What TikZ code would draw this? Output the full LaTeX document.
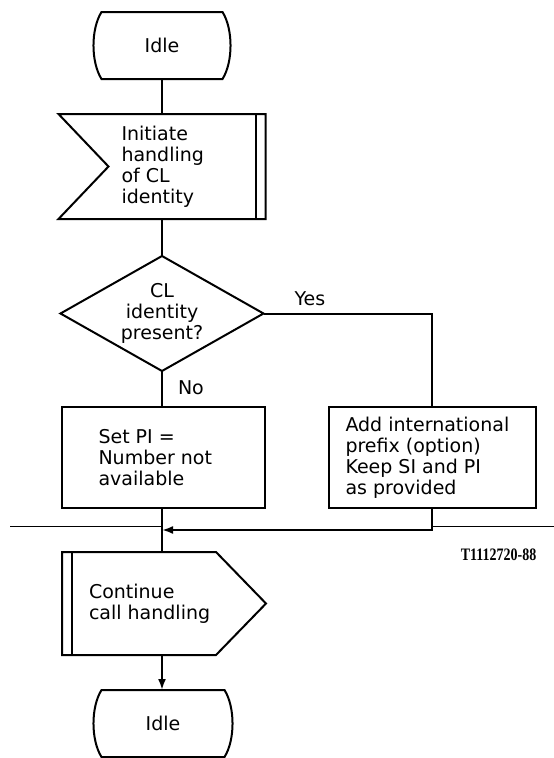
\documentclass[tikz,border=0pt]{standalone}
\usepackage{fontspec}
\setmainfont{DejaVu Sans}
\newfontfamily\codefont{Liberation Serif}
\usepackage{tikz}
\usetikzlibrary{arrows.meta}
\usetikzlibrary{positioning}

\tikzset{
  frame/.style={rectangle, draw=none, inner sep=0pt},
  txt/.style={inner sep=0pt, align=left, font=\fontsize{19}{21}\selectfont},
}

\begin{document}
\begin{tikzpicture}[x=1pt, y=-1pt]
\useasboundingbox (0,0) rectangle (554,758);
\coordinate (ruleL) at (10,526);
\coordinate (ruleR) at (554,526);
\coordinate (join) at (162,530);
\begin{scope}[line width=2pt]
% draws frames
\node[frame, minimum width=135pt, minimum height=65pt] (idleA) at (162,45.5) {};
\node[frame, minimum width=205pt, minimum height=103pt] (init) at (162,166.5) {};
\node[frame, minimum width=201pt, minimum height=113pt] (dec) at (162,313.5) {};
\node[frame, draw, minimum width=203pt, minimum height=101pt] (setpi) at (163,457.5) {};
\node[frame, draw, minimum width=207pt, minimum height=101pt] (add) at (432,457.5) {};
\node[frame, minimum width=202pt, minimum height=101pt] (cont) at (164,603.5) {};
\node[frame, minimum width=137pt, minimum height=65pt] (idleB) at (163,723.5) {};
% draws outlines
\draw ([xshift=8pt]idleA.north west) -- ([xshift=-8pt]idleA.north east)
  .. controls +(10.7,17) and +(10.7,-17) .. ([xshift=-8pt]idleA.south east)
  -- ([xshift=8pt]idleA.south west)
  .. controls +(-10.7,-17) and +(-10.7,17) .. ([xshift=8pt]idleA.north west) -- cycle;
\draw (init.north west) -- (init.north east) -- (init.south east) -- (init.south west)
  -- ([xshift=50pt]init.west) -- cycle;
\draw ([xshift=-10pt]init.north east) -- ([xshift=-10pt]init.south east);
\draw (dec.north) -- (dec.east) -- (dec.south) -- (dec.west) -- cycle;
\draw (cont.north west) -- ([xshift=-50pt]cont.north east) -- (cont.east)
  -- ([xshift=-50pt]cont.south east) -- (cont.south west) -- cycle;
\draw ([xshift=10pt]cont.north west) -- ([xshift=10pt]cont.south west);
\draw ([xshift=8pt]idleB.north west) -- ([xshift=-8pt]idleB.north east)
  .. controls +(10.7,17) and +(10.7,-17) .. ([xshift=-8pt]idleB.south east)
  -- ([xshift=8pt]idleB.south west)
  .. controls +(-10.7,-17) and +(-10.7,17) .. ([xshift=8pt]idleB.north west) -- cycle;
% labels frames
\node[txt] (idleAtxt) at (idleA) {Idle};
\node[txt, anchor=west, right=62pt of init.west] (inittxt) {Initiate\\handling\\of CL\\identity};
\node[txt, align=center] (dectxt) at (dec) {CL\\identity\\present?};
\node[txt, anchor=west, right=37pt of setpi.west] (setpitxt) {Set PI =\\Number not\\available};
\node[txt, anchor=west, right=17pt of add.west] (addtxt) {Add international\\prefix (option)\\Keep SI and PI\\as provided};
\node[txt, anchor=west, right=26pt of cont.west] (conttxt) {Continue\\call handling};
\node[txt] (idleBtxt) at (idleB) {Idle};
\node[txt, anchor=base west] (yes) at ([xshift=30pt, yshift=8pt]dec.east) {Yes};
\node[txt, anchor=base west] (no) at ([xshift=15pt, yshift=-23pt]dec.south) {No};
% draws connectors
\draw (idleA.south) -- (idleA.south |- init.north);
\draw (init.south -| idleA.south) -- (dec.north);
\draw (dec.south) -- (dec.south |- setpi.north);
\draw (dec.east) -| (add.north);
\draw (dec.south |- setpi.south) -- (dec.south |- cont.north);
\draw[-{Latex[length=11pt, width=8pt]}] (add.south) |- (join);
\draw[-{Latex[length=11pt, width=8pt]}] (dec.south |- cont.south) -- (dec.south |- idleB.north);
\end{scope}
% draws rule
\draw[line width=0.8pt] (ruleL) -- (ruleL -| join);
\draw[line width=0.8pt] (ruleR -| add.south) -- (ruleR);
\node[anchor=north east, inner sep=0pt, font=\codefont\bfseries\fontsize{14}{14}\selectfont]
  (code) at ([yshift=-40pt]add.south east) {\scalebox{1}[1.25]{T1112720-88}};
\end{tikzpicture}
\end{document}
